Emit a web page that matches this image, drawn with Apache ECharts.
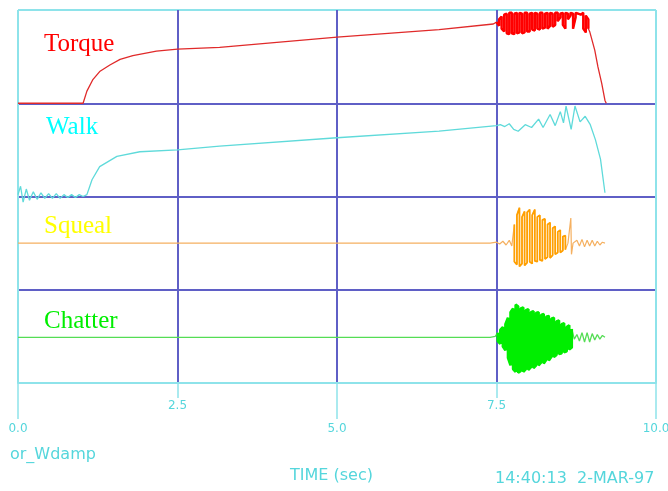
<!DOCTYPE html>
<html>
<head>
<meta charset="utf-8">
<script src="https://cdn.jsdelivr.net/npm/echarts@6/dist/echarts.min.js"></script>
<style>
  html, body { margin: 0; padding: 0; background: #fff; }
  #chart { width: 668px; height: 491px; }
</style>
</head>
<body>
<div id="chart"></div>
<script>
// time axis ticks (sec)
const tickMajor = [0, 5, 10]
const tickMinor = [2.5, 7.5]

// each channel is read as a fraction of its band, 0 = band bottom
// Torque
const torqueT = [0, 1.02, 1.08, 1.17, 1.28, 1.44, 1.6, 1.8, 2.17, 2.5, 3.16, 5.0, 6.6, 7.45]
const torqueV = [0, 0, 0.13, 0.25, 0.34, 0.41, 0.47, 0.51, 0.56, 0.58, 0.6, 0.71, 0.79, 0.85]
const torqueBurstT = [7.50, 7.54, 7.58, 7.62, 7.66, 7.70, 7.74, 7.78, 7.82, 7.86, 7.90, 7.94, 7.98, 8.02, 8.06, 8.10, 8.14, 8.18, 8.22, 8.26, 8.30, 8.34, 8.38, 8.42, 8.46, 8.50, 8.54, 8.58, 8.62, 8.66, 8.70, 8.74, 8.78, 8.82, 8.86, 8.90, 8.94]
const torqueBurstHi = [0.87, 0.90, 0.93, 0.95, 0.96, 0.97, 0.97, 0.96, 0.97, 0.97, 0.96, 0.97, 0.97, 0.96, 0.97, 0.97, 0.96, 0.97, 0.97, 0.96, 0.97, 0.97, 0.96, 0.97, 0.97, 0.96, 0.97, 0.97, 0.96, 0.97, 0.96, 0.97, 0.96, 0.96, 0.97, 0.94, 0.90]
const torqueBurstLo = [0.85, 0.83, 0.80, 0.77, 0.75, 0.74, 0.75, 0.74, 0.75, 0.76, 0.75, 0.76, 0.77, 0.77, 0.79, 0.78, 0.80, 0.79, 0.80, 0.81, 0.80, 0.83, 0.82, 0.84, 0.88, 0.92, 0.84, 0.80, 0.90, 0.94, 0.80, 0.92, 0.96, 0.95, 0.80, 0.76, 0.80]
const torqueFallT = [8.96, 9.04, 9.09, 9.15, 9.20, 9.22]
const torqueFallV = [0.77, 0.57, 0.39, 0.21, 0.03, 0]

// Walk
const walkT = [0, 0.04, 0.08, 0.13, 0.18, 0.24, 0.30, 0.36, 0.42, 0.48, 0.54, 0.60, 0.66, 0.72, 0.78, 0.84, 0.90, 0.96, 1.02, 1.08, 1.12, 1.16, 1.28, 1.55, 1.91, 2.5, 3.16, 5.0, 6.6, 7.5]
const walkV = [0.02, 0.11, -0.06, 0.08, -0.04, 0.05, -0.03, 0.04, -0.02, 0.03, -0.02, 0.03, -0.02, 0.02, -0.01, 0.02, -0.01, 0.02, 0.00, 0.02, 0.10, 0.18, 0.32, 0.43, 0.48, 0.50, 0.54, 0.63, 0.70, 0.76]
const walkOscT = [7.56, 7.63, 7.70, 7.77, 7.84, 7.95, 8.05, 8.16, 8.23, 8.34, 8.42, 8.50, 8.55, 8.59, 8.67, 8.73, 8.81, 8.89, 8.97, 9.05, 9.13, 9.20]
const walkOscV = [0.77, 0.75, 0.78, 0.72, 0.70, 0.77, 0.74, 0.83, 0.74, 0.88, 0.76, 0.91, 0.79, 0.97, 0.72, 0.97, 0.80, 0.86, 0.77, 0.61, 0.40, 0.04]

// Squeal
const squealT = [0, 7.40, 7.50, 7.55, 7.60, 7.65, 7.70, 7.74]
const squealV = [0.50, 0.50, 0.51, 0.49, 0.52, 0.48, 0.53, 0.47]
const squealBurstT = [7.78, 7.82, 7.86, 7.90, 7.94, 7.98, 8.02, 8.06, 8.10, 8.14, 8.18, 8.22, 8.26, 8.30, 8.34, 8.38, 8.42, 8.46, 8.50, 8.54, 8.58]
const squealBurstHi = [0.70, 0.80, 0.88, 0.78, 0.84, 0.83, 0.86, 0.80, 0.86, 0.78, 0.80, 0.75, 0.76, 0.70, 0.72, 0.66, 0.68, 0.62, 0.64, 0.57, 0.58]
const squealBurstLo = [0.30, 0.27, 0.25, 0.28, 0.26, 0.29, 0.30, 0.28, 0.31, 0.30, 0.32, 0.31, 0.33, 0.35, 0.34, 0.37, 0.38, 0.40, 0.40, 0.42, 0.43]
const squealTailT = [8.62, 8.665, 8.675, 8.70, 8.76, 8.80, 8.84, 8.88, 8.92, 8.96, 9.00, 9.04, 9.08, 9.12, 9.16, 9.20]
const squealTailV = [0.50, 0.77, 0.38, 0.50, 0.53, 0.47, 0.54, 0.46, 0.53, 0.47, 0.53, 0.47, 0.52, 0.48, 0.51, 0.50]

// Chatter
const chatterT = [0, 7.40, 7.48]
const chatterV = [0.49, 0.49, 0.50]
const chatterBurstT = [7.52, 7.56, 7.60, 7.64, 7.68, 7.72, 7.76, 7.80, 7.84, 7.88, 7.92, 7.96, 8.00, 8.04, 8.08, 8.12, 8.16, 8.20, 8.24, 8.28, 8.32, 8.36, 8.40, 8.44, 8.48, 8.52, 8.56, 8.60, 8.64, 8.68]
const chatterBurstHi = [0.54, 0.57, 0.60, 0.63, 0.70, 0.76, 0.80, 0.84, 0.82, 0.80, 0.81, 0.78, 0.79, 0.76, 0.77, 0.75, 0.76, 0.73, 0.74, 0.71, 0.72, 0.69, 0.70, 0.66, 0.67, 0.63, 0.64, 0.60, 0.62, 0.58]
const chatterBurstLo = [0.45, 0.42, 0.39, 0.35, 0.27, 0.19, 0.15, 0.12, 0.11, 0.13, 0.12, 0.15, 0.14, 0.17, 0.16, 0.19, 0.19, 0.22, 0.21, 0.25, 0.24, 0.28, 0.28, 0.30, 0.31, 0.32, 0.33, 0.34, 0.36, 0.38]
const chatterTailT = [8.72, 8.76, 8.80, 8.84, 8.88, 8.92, 8.96, 9.00, 9.04, 9.08, 9.12, 9.16, 9.20]
const chatterTailV = [0.47, 0.52, 0.45, 0.54, 0.44, 0.54, 0.44, 0.53, 0.46, 0.52, 0.47, 0.51, 0.49]

// channel names and band offsets (band 0 is the bottom one)
const channels = ['Torque', 'Walk', 'Squeal', 'Chatter']
const bandOffset = [3, 2, 1, 0]

const CYAN = '#8ee3ea'
const BLUE = '#5f5fc6'
const TXT = '#55d6dc'

function pairs(ts, vs, off) {
  return ts.map((t, i) => [t, off + vs[i]])
}
// burst drawn as vertical strokes between the read upper and lower edges
function zig(ts, hi, lo, off) {
  const out = []
  ts.forEach((t, i) => {
    if (i % 2 === 0) {
      out.push([t, off + hi[i]], [t, off + lo[i]])
    } else {
      out.push([t, off + lo[i]], [t, off + hi[i]])
    }
  })
  return out
}

const torqueBurst = zig(torqueBurstT, torqueBurstHi, torqueBurstLo, bandOffset[0])
const squealBurst = zig(squealBurstT, squealBurstHi, squealBurstLo, bandOffset[2])
const chatterBurst = zig(chatterBurstT, chatterBurstHi, chatterBurstLo, bandOffset[3])

const torqueData = [].concat(
  pairs(torqueT, torqueV, bandOffset[0]),
  torqueBurst,
  pairs(torqueFallT, torqueFallV, bandOffset[0])
)
const walkData = [].concat(
  pairs(walkT, walkV, bandOffset[1]),
  pairs(walkOscT, walkOscV, bandOffset[1])
)
const squealData = [].concat(
  pairs(squealT, squealV, bandOffset[2]),
  squealBurst,
  pairs(squealTailT, squealTailV, bandOffset[2])
)
const chatterData = [].concat(
  pairs(chatterT, chatterV, bandOffset[3]),
  chatterBurst,
  pairs(chatterTailT, chatterTailV, bandOffset[3])
)

const chart = echarts.init(document.getElementById('chart'))

function lineSeries(name, data, color, width) {
  return {
    name: name,
    type: 'line',
    data: data,
    xAxisIndex: 0,
    yAxisIndex: 0,
    showSymbol: false,
    symbol: 'none',
    smooth: false,
    lineStyle: { color: color, width: width, join: 'bevel', cap: 'butt' },
    z: 5
  }
}

const option = {
  animation: false,
  backgroundColor: '#fff',
  grid: { left: 18, right: 12, top: 10, bottom: 108, outerBoundsMode: 'none' },
  xAxis: [
    {
      type: 'value',
      min: 0,
      max: 10,
      interval: 2.5,
      position: 'bottom',
      axisLine: { show: true, lineStyle: { color: CYAN, width: 2 } },
      axisTick: { show: true, length: 15, lineStyle: { color: CYAN, width: 1.5 } },
      axisLabel: {
        margin: 17,
        color: TXT,
        fontSize: 12,
        fontFamily: 'DejaVu Sans',
        formatter: (v) => (tickMinor.indexOf(v) >= 0 ? v.toFixed(1) : '')
      },
      splitLine: {
        show: true,
        lineStyle: { color: [CYAN, BLUE, BLUE, BLUE, CYAN], width: 2 }
      }
    },
    {
      type: 'value',
      min: 0,
      max: 10,
      interval: 5,
      position: 'bottom',
      axisLine: { show: false },
      axisTick: { show: true, length: 36, lineStyle: { color: CYAN, width: 1.5 } },
      axisLabel: {
        margin: 40,
        color: TXT,
        fontSize: 12,
        fontFamily: 'DejaVu Sans',
        showMinLabel: true,
        showMaxLabel: true,
        formatter: (v) => (tickMajor.indexOf(v) >= 0 ? v.toFixed(1) : '')
      },
      splitLine: { show: false }
    }
  ],
  yAxis: {
    type: 'value',
    min: 0,
    max: 4,
    interval: 1,
    axisLine: { show: false },
    axisTick: { show: false },
    axisLabel: { show: false },
    splitLine: {
      show: true,
      lineStyle: { color: [CYAN, BLUE, BLUE, BLUE, CYAN], width: 2 }
    }
  },
  graphic: [
    { type: 'text', left: 44, top: 32, style: { text: channels[0], fill: '#ff0000', font: '25px "Liberation Serif"' } },
    { type: 'text', left: 46, top: 115, style: { text: channels[1], fill: '#00ffff', font: '25px "Liberation Serif"' } },
    { type: 'text', left: 44, top: 214, style: { text: channels[2], fill: '#ffff00', font: '25px "Liberation Serif"' } },
    { type: 'text', left: 44, top: 309, style: { text: channels[3], fill: '#00ee00', font: '25px "Liberation Serif"' } },
    { type: 'text', left: 10, top: 447, style: { text: 'or_Wdamp', fill: TXT, font: '16px "DejaVu Sans"' } },
    { type: 'text', left: 290, top: 468, style: { text: 'TIME (sec)', fill: TXT, font: '16px "DejaVu Sans"' } },
    { type: 'text', left: 495, top: 471, style: { text: '14:40:13  2-MAR-97', fill: TXT, font: '16px "DejaVu Sans"' } }
  ],
  series: [
    lineSeries(channels[0], torqueData, '#e02a2a', 1.3),
    lineSeries(channels[1], walkData, '#5fdada', 1.3),
    lineSeries(channels[2], squealData, '#f5b060', 1.2),
    lineSeries(channels[3], chatterData, '#55dd55', 1.3),
    // denser overlay for the bursts
    lineSeries(channels[0] + ' burst', torqueBurst, '#ff0000', 2.4),
    lineSeries(channels[2] + ' burst', squealBurst, '#ffa000', 1.7),
    lineSeries(channels[3] + ' burst', chatterBurst, '#00ee00', 2.6)
  ]
}

chart.setOption(option)
</script>
</body>
</html>
